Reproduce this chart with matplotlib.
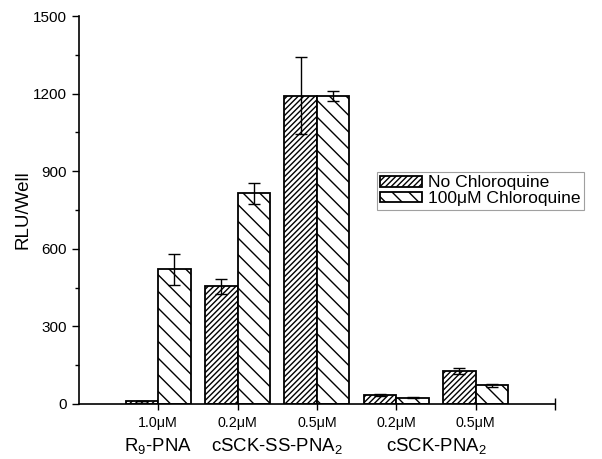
import numpy as np
import matplotlib
matplotlib.use("Agg")
import matplotlib.pyplot as plt

plt.rcParams['font.family'] = ['Liberation Sans', 'DejaVu Sans']
plt.rcParams['mathtext.fontset'] = 'custom'
plt.rcParams['mathtext.rm'] = 'Liberation Sans'
plt.rcParams['hatch.linewidth'] = 1.0

# data
conc = ["1.0\u03bcM", "0.2\u03bcM", "0.5\u03bcM", "0.2\u03bcM", "0.5\u03bcM"]
groups = [r"R$_\mathrm{9}$-PNA", r"cSCK-SS-PNA$_\mathrm{2}$", r"cSCK-PNA$_\mathrm{2}$"]
group_pos = [1, 2.5, 4.5]
no_chloro = [10, 455, 1192, 35, 126]
no_chloro_err = [0, 30, 150, 4, 12]
chloro = [520, 815, 1190, 24, 72]
chloro_err = [60, 40, 20, 3, 5]

x = np.arange(1, len(conc) + 1)
w = 0.41

fig = plt.figure(figsize=(6.02, 4.59), dpi=100)
ax = fig.add_axes([0.131, 0.12, 0.791, 0.845])

ax.bar(x - w / 2, no_chloro, w, color='white', edgecolor='black',
       hatch='//////', linewidth=1.3, label='No Chloroquine', zorder=2)
ax.bar(x + w / 2, chloro, w, color='white', edgecolor='black',
       hatch='\\\\', linewidth=1.3, label='100\u03bcM Chloroquine', zorder=2)
ax.errorbar(x - w / 2, no_chloro, yerr=no_chloro_err, fmt='none',
            ecolor='black', elinewidth=1, capsize=4, capthick=1, zorder=3)
ax.errorbar(x + w / 2, chloro, yerr=chloro_err, fmt='none',
            ecolor='black', elinewidth=1, capsize=4, capthick=1, zorder=3)

ax.set_xlim(0, 6)
ax.set_ylim(0, 1500)
ax.set_yticks(np.arange(0, 1501, 300))
ax.set_yticks(np.arange(150, 1500, 300), minor=True)
ax.set_xticks(list(x) + [6])
ax.set_xticklabels(conc + [""], fontsize=10.3)
ax.tick_params(axis='y', labelsize=11, direction='out', length=5, width=1)
ax.tick_params(axis='y', which='minor', direction='out', length=3, width=1)
ax.tick_params(axis='x', direction='inout', length=8, width=1, pad=5)
ax.set_ylabel("RLU/Well", fontsize=13.5)
ax.yaxis.set_label_coords(-0.10, 0.5)

for s in ['top', 'right']:
    ax.spines[s].set_visible(False)
for s in ['left', 'bottom']:
    ax.spines[s].set_linewidth(1.2)

for gp, g in zip(group_pos, groups):
    ax.text(gp, -0.085, g, transform=ax.get_xaxis_transform(),
            ha='center', va='top', fontsize=13.4)

leg = ax.legend(loc='upper left', bbox_to_anchor=(0.626, 0.598), fontsize=12.6,
                handlelength=2.4, handleheight=0.55, fancybox=False,
                borderpad=0.2, labelspacing=0.05, handletextpad=0.3,
                borderaxespad=0)
leg.get_frame().set_edgecolor('#888888')
leg.get_frame().set_linewidth(0.8)

fig.savefig("out.png", dpi=100)
